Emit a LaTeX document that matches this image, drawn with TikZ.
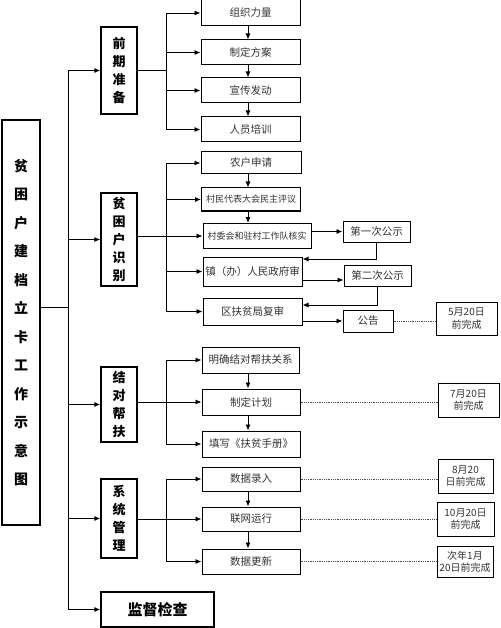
\documentclass[tikz,border=0pt]{standalone}
\usepackage{fontspec}
\newfontfamily\cjk{Noto Sans CJK SC}
\usepackage{tikz}
\usetikzlibrary{arrows.meta}

\tikzset{
  title/.style={draw, line width=1.4pt, minimum width=38, minimum height=405, inner sep=0pt, align=center,
    font=\cjk\bfseries\fontsize{14}{28.5}\selectfont},
  stage/.style={draw, line width=1.4pt, minimum width=36, inner sep=0pt, align=center,
    font=\cjk\bfseries\fontsize{13}{18}\selectfont},
  item/.style={draw, line width=1pt, minimum width=99, minimum height=25, inner sep=0pt,
    font=\cjk\fontsize{10.5}{12}\selectfont, text=black!80},
  datebox/.style={draw, line width=1pt, inner sep=0pt, align=center,
    font=\cjk\fontsize{10}{12.5}\selectfont, text=black!80},
  link/.style={line width=0.9pt},
  arr/.style={link, -{Latex[length=6pt,width=5pt]}},
  dots/.style={densely dotted, line width=0.8pt, black!70},
}

\begin{document}
\begin{tikzpicture}[x=1pt, y=-1pt]
        \useasboundingbox[fill=white] (0,0) rectangle (500,628);

        % Title box
        \node[title] (main) at (21,322.5) {贫\\困\\户\\建\\档\\立\\卡\\工\\作\\示\\意\\图};

        % Stage boxes
        \node[stage, minimum height=87] (prep)  at (119,70.5)  {前\\期\\准\\备};
        \node[stage, minimum height=93] (ident) at (119,239.5) {贫\\困\\户\\识\\别};
        \node[stage, minimum height=75] (pair)  at (119,404.5) {结\\对\\帮\\扶};
        \node[stage, minimum height=79] (sys)   at (119,518.5) {系\\统\\管\\理};
        \node[stage, minimum width=113, minimum height=35, font=\cjk\bfseries\fontsize{15}{18}\selectfont]
              (check) at (157.5,609.5) {监督检查};

        % Trunk and branch points
        \coordinate (trunk) at (68,307);
        \coordinate (ttop)  at (68,70.5);
        \coordinate (br)    at (166,0);

        % Preparation steps
        \node[item, minimum height=26] (s1a) at (250.5,13)   {组织力量};
        \node[item] (s1b) at (250.5,52.5)  {制定方案};
        \node[item] (s1c) at (250.5,90.5)  {宣传发动};
        \node[item] (s1d) at (250.5,129.5) {人员培训};

        % Identification steps
        \node[item, minimum width=100, minimum height=22] (s2a) at (251,163) {农户申请};
        \node[item, minimum height=23, font=\cjk\fontsize{9}{10}\selectfont] (s2b) at (251,199.5) {村民代表大会民主评议};
        \node[item, minimum width=108, font=\cjk\fontsize{9}{10}\selectfont] (s2c) at (257,236) {村委会和驻村工作队核实};
        \node[item, minimum height=29] (s2d) at (252.5,271.5) {镇（办）人民政府审};
        \node[item, minimum height=27] (s2e) at (252.5,311.5) {区扶贫局复审};
        \node[item, minimum width=67, minimum height=21] (pub1) at (376.5,231.5) {第一次公示};
        \node[item, minimum width=67, minimum height=21] (pub2) at (377.5,275.5) {第二次公示};
        \node[item, minimum width=50, minimum height=22] (note) at (368,321) {公告};
        \node[datebox, minimum width=61, minimum height=33] (d1) at (466.5,318.5) {5月20日\\前完成};

        % Pairing steps
        \node[item, minimum width=97, minimum height=26] (s3a) at (250.5,360) {明确结对帮扶关系};
        \node[item, minimum width=98, minimum height=26] (s3b) at (251,402) {制定计划};
        \node[item, minimum width=98, minimum height=26] (s3c) at (251,444) {填写《扶贫手册》};
        \node[datebox, minimum width=61, minimum height=34] (d2) at (468.5,400) {7月20日\\前完成};

        % System steps
        \node[item, minimum width=98, minimum height=24] (s4a) at (251,479)   {数据录入};
        \node[item, minimum width=98, minimum height=24] (s4b) at (251,519)   {联网运行};
        \node[item, minimum width=98] (s4c) at (251,561.5) {数据更新};
        \node[datebox, minimum width=55, minimum height=34] (d3) at (465.5,476)   {8月20\\日前完成};
        \node[datebox, minimum width=57, minimum height=34] (d4) at (465.5,519)   {10月20日\\前完成};
        \node[datebox, minimum width=56, minimum height=31] (d5) at (465,561.5) {次年1月\\20日前完成};

        % Trunk
        \draw[link] (main.east |- trunk) -- (trunk);
        \draw[link] (ttop) -- (check.west -| ttop);
        \foreach \s in {prep,ident,pair,sys,check}
          \draw[arr] (\s.west -| ttop) -- (\s.west);

        % Branches
        \draw[link] (prep.east) -- (prep.east -| br);
        \draw[link] (s1a.west -| br) -- (s1d.west -| br);
        \foreach \n in {s1a,s1b,s1c,s1d}
          \draw[arr] (\n.west -| br) -- (\n.west);

        \draw[link] (ident.east |- s2c.west) -- (s2c.west -| br);
        \draw[link] (s2a.west -| br) -- (s2e.west -| br);
        \foreach \n in {s2a,s2b,s2c,s2d,s2e}
          \draw[arr] (\n.west -| br) -- (\n.west);

        \draw[link] (pair.east |- s3b.west) -- (s3b.west -| br);
        \draw[link] (s3a.west -| br) -- (s3c.west -| br);
        \foreach \n in {s3a,s3b,s3c}
          \draw[arr] (\n.west -| br) -- (\n.west);

        \draw[link] (sys.east |- s4b.west) -- (s4b.west -| br);
        \draw[link] (s4a.west -| br) -- (s4c.west -| br);
        \foreach \n in {s4a,s4b,s4c}
          \draw[arr] (\n.west -| br) -- (\n.west);

        % Downward steps
        \coordinate (col) at (248,0);
        \draw[arr] (s1a.south -| col) -- (s1b.north -| col);
        \draw[arr] (s1b.south -| col) -- (s1c.north -| col);
        \draw[arr] (s1c.south -| col) -- (s1d.north -| col);
        \draw[arr] (s2a.south -| col) -- (s2b.north -| col);
        \draw[arr] (s2b.south -| col) -- (s2c.north -| col);
        \draw[arr] (s3a.south -| col) -- (s3b.north -| col);
        \draw[arr] (s3b.south -| col) -- (s3c.north -| col);
        \draw[arr] (s4a.south -| col) -- (s4b.north -| col);
        \draw[arr] (s4b.south -| col) -- (s4c.north -| col);

        % Publicity loop
        \coordinate (back1) at (0,259);
        \coordinate (back2) at (0,305);
        \coordinate (out2)  at (0,280);
        \draw[arr] (s2c.east |- pub1.west) -- (pub1.west);
        \draw[arr] (pub1.south) -- (pub1.south |- back1) -- (s2d.east |- back1);
        \draw[arr] (s2d.east |- out2) -- (pub2.west |- out2);
        \draw[arr] (pub2.south) -- (pub2.south |- back2) -- (s2e.east |- back2);
        \draw[arr] (s2e.east |- note.west) -- (note.west);

        % Deadlines
        \draw[dots] (note.east) -- (d1.west |- note.east);
        \draw[dots] (s3b.east) -- (d2.west |- s3b.east);
        \draw[dots] (s4a.east) -- (d3.west |- s4a.east);
        \draw[dots] (s4b.east) -- (d4.west);
        \draw[dots] (s4c.east) -- (d5.west);
\end{tikzpicture}
\end{document}
